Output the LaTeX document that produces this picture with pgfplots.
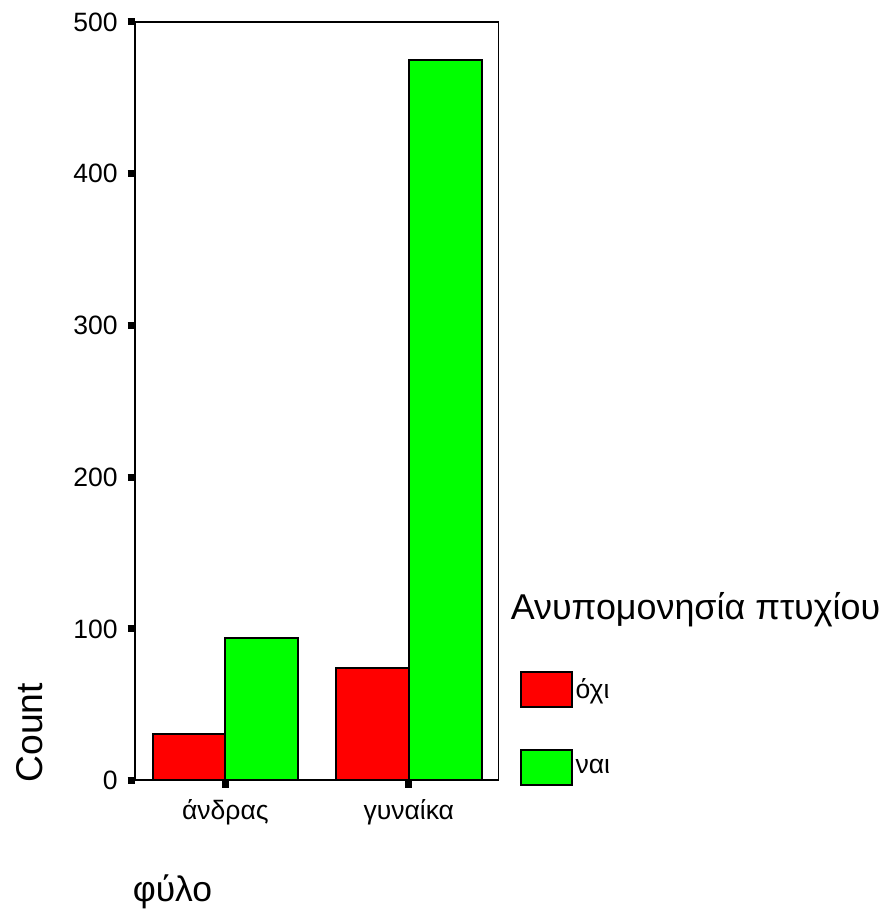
\documentclass[border=0pt]{standalone}
\usepackage{fontspec}
\setmainfont{Liberation Sans}
\usepackage{pgfplots}
\pgfplotsset{compat=1.18}
\definecolor{barred}{RGB}{255,0,0}
\definecolor{bargreen}{RGB}{0,255,0}
\begin{document}
\begin{tikzpicture}
\begin{axis}[
    name=ax,
    scale only axis,
    width=182.5pt,
    height=380.5pt,
    ybar=0pt,
    bar width=36.5pt,
    xmin=-0.495, xmax=1.489,
    ymin=0, ymax=500,
    xtick={0,1},
    xticklabels={άνδρας, γυναίκα},
    ytick={0,100,200,300,400,500},
    tick align=outside,
    xtick pos=bottom,
    ytick pos=left,
    major tick length=3.5pt,
    tick style={line width=3.5pt, black},
    axis line style={line width=0.7pt},
    /pgf/number format/assume math mode=true,
    ticklabel style={font=\fontsize{13.3}{15}\selectfont},
    yticklabel style={xshift=-1.5pt},
    xticklabel style={yshift=-2.5pt},
    legend style={draw=none, fill=none, at={(axis description cs:1.0575,0.1445)},
        anchor=north west, inner sep=0pt, row sep=20.5pt,
        nodes={inner sep=0pt, font=\fontsize{13.3}{15}\selectfont},
        column sep=1.5pt},
    legend cell align=left,
    legend image code/.code={\draw[#1, line width=1pt] (0pt,-8.75pt) rectangle (25.5pt,8.75pt);},
]
\addplot[fill=barred, draw=black, line width=1pt] coordinates {(0,31) (1,74)};
\addplot[fill=bargreen, draw=black, line width=1pt] coordinates {(0,94) (1,475)};
\legend{όχι, ναι}
\draw[line width=1.6pt] (rel axis cs:0,1) -- (rel axis cs:0,0) -- (rel axis cs:1,0);
\end{axis}
\node[rotate=90, font=\fontsize{18.7}{21}\selectfont] at ([xshift=-52.5pt, yshift=24pt]ax.south west) {Count};
\node[font=\fontsize{17.8}{20}\selectfont] at ([xshift=19pt, yshift=-56pt]ax.south west) {φύλο};
\node[anchor=west, inner sep=0pt, font=\fontsize{18}{20}\selectfont] at ([xshift=6pt, yshift=85.5pt]ax.south east) {Ανυπομονησία πτυχίου};
\path ([shift={(-67.5pt,-66.5pt)}]ax.south west) rectangle ([shift={(191.5pt,11pt)}]ax.north east);
\end{tikzpicture}
\end{document}
